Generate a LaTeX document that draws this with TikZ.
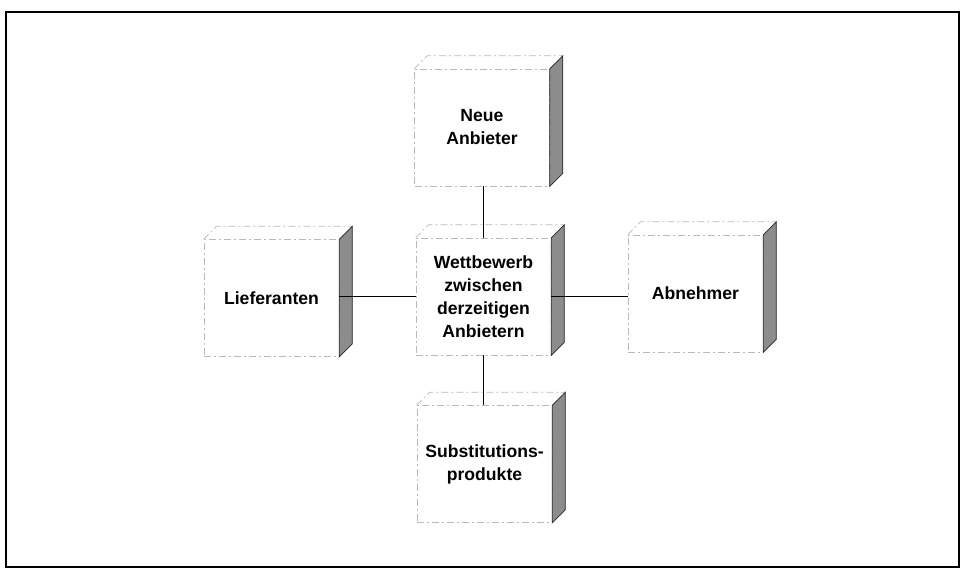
\documentclass[tikz,border=0pt]{standalone}
\usepackage{fontspec}
\setmainfont{Liberation Sans}
\begin{document}
\begin{tikzpicture}[x=1pt,y=-1pt,
  front/.style={rectangle, minimum width=135pt, minimum height=117pt, inner sep=0pt,
    draw=gray!55, line width=0.6pt, dash pattern=on 7pt off 3pt on 2pt off 3pt,
    font=\fontsize{17.6}{23}\selectfont\bfseries, align=center},
  topface/.style={draw=gray!55, line width=0.6pt, dash pattern=on 7pt off 3pt on 2pt off 3pt},
  sideface/.style={draw=black!85, line width=0.7pt, fill=black!45},
  link/.style={draw=black, line width=1.6pt},
  frame/.style={draw=black, line width=2pt}]
\useasboundingbox (0,0) rectangle (963,570);
\draw[frame] (6,12) rectangle (959,567);
\def\dd{13}
\newcommand{\mycube}[4]{%
  \node[front] (#1) at (#2,#3) {#4};
  \draw[topface] (#1.north west) -- ++(\dd,-\dd) -- ([shift={(\dd,-\dd)}]#1.north east) -- (#1.north east);
  \draw[sideface] (#1.north east) -- ++(\dd,-\dd) -- ([shift={(\dd,-\dd)}]#1.south east) -- (#1.south east) -- cycle;
}
\mycube{neue}{482}{127.5}{Neue\\Anbieter}
\mycube{cen}{483.5}{296.5}{Wettbewerb\\zwischen\\derzeitigen\\Anbietern}
\mycube{lief}{271.5}{298}{Lieferanten}
\mycube{abn}{695.5}{293.5}{Abnehmer}
\mycube{sub}{484.5}{464}{Substitutions-\\produkte}
\draw[link] (neue.south -| cen.north) -- (cen.north);
\draw[link] (cen.south) -- (cen.south |- sub.north);
\draw[link] (lief.east |- cen.west) -- (cen.west);
\draw[link] (cen.east) -- (cen.east -| abn.west);
\end{tikzpicture}
\end{document}
